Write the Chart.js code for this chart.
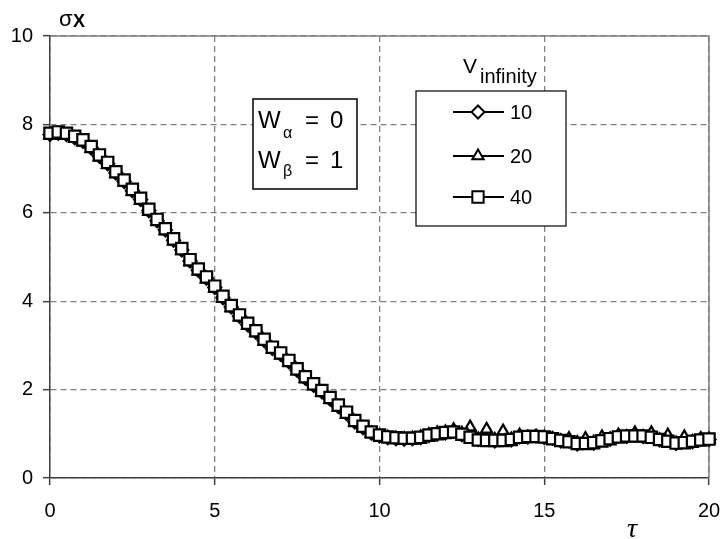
<!DOCTYPE html>
<html>
<head>
<meta charset="utf-8">
<script src="https://cdn.jsdelivr.net/npm/chart.js@4.4.0/dist/chart.umd.min.js"></script>
<style>
html, body { margin: 0; padding: 0; background: #fff; overflow: hidden; }
</style>
</head>
<body>
<canvas id="myChart" width="725" height="539"></canvas>
<script>
// time axis (tau), one reading every 0.25
const tau = [0,0.25,0.5,0.75,1,1.25,1.5,1.75,2,2.25,
  2.5,2.75,3,3.25,3.5,3.75,4,4.25,4.5,4.75,
  5,5.25,5.5,5.75,6,6.25,6.5,6.75,7,7.25,
  7.5,7.75,8,8.25,8.5,8.75,9,9.25,9.5,9.75,
  10,10.25,10.5,10.75,11,11.25,11.5,11.75,12,12.25,
  12.5,12.75,13,13.25,13.5,13.75,14,14.25,14.5,14.75,
  15,15.25,15.5,15.75,16,16.25,16.5,16.75,17,17.25,
  17.5,17.75,18,18.25,18.5,18.75,19,19.25,19.5,19.75,
  20];

// sigma x for V_infinity = 10
const v10 = [7.77,7.80,7.77,7.70,7.62,7.47,7.28,7.11,6.90,6.71,
  6.50,6.30,6.05,5.82,5.61,5.38,5.16,4.91,4.70,4.52,
  4.31,4.08,3.87,3.66,3.47,3.30,3.11,2.93,2.80,2.63,
  2.44,2.26,2.10,1.95,1.79,1.62,1.46,1.27,1.14,1.02,
  0.95,0.91,0.89,0.88,0.89,0.91,0.96,0.99,1.02,1.06,
  0.98,0.95,0.87,0.88,0.84,0.87,0.86,0.93,0.93,0.95,
  0.92,0.90,0.84,0.84,0.77,0.81,0.79,0.87,0.88,0.95,
  0.94,0.97,0.94,0.95,0.86,0.86,0.78,0.84,0.82,0.88,
  0.87];

// V_infinity = 20
const v20 = [7.76,7.79,7.75,7.68,7.60,7.45,7.26,7.09,6.88,6.69,
  6.48,6.28,6.03,5.80,5.59,5.36,5.14,4.89,4.68,4.50,
  4.29,4.06,3.85,3.64,3.45,3.28,3.09,2.91,2.78,2.61,
  2.42,2.24,2.08,1.93,1.77,1.60,1.44,1.26,1.13,1.01,
  0.95,0.92,0.90,0.89,0.90,0.93,0.98,1.02,1.04,1.09,
  1.01,1.15,0.88,1.10,0.87,1.06,0.88,0.97,0.92,0.93,
  0.92,0.88,0.84,0.89,0.80,0.89,0.81,0.93,0.88,0.97,
  0.93,1.02,0.93,1.02,0.86,0.97,0.79,0.93,0.82,0.89,
  0.88];

// V_infinity = 40
const v40 = [7.80,7.83,7.80,7.73,7.65,7.50,7.31,7.14,6.93,6.74,
  6.53,6.33,6.08,5.85,5.64,5.41,5.19,4.94,4.73,4.55,
  4.34,4.11,3.90,3.69,3.50,3.33,3.14,2.96,2.83,2.66,
  2.47,2.29,2.13,1.98,1.82,1.65,1.49,1.30,1.17,1.04,
  0.97,0.93,0.91,0.90,0.90,0.92,0.97,1.00,1.03,1.04,
  0.99,0.92,0.86,0.85,0.85,0.85,0.87,0.92,0.94,0.94,
  0.93,0.89,0.85,0.82,0.78,0.78,0.80,0.84,0.89,0.93,
  0.95,0.95,0.95,0.92,0.87,0.83,0.79,0.80,0.83,0.86,
  0.88];

const seriesLabels = ['10', '20', '40'];
const seriesValues = [v10, v20, v40];
const markerStyles = ['rectRot', 'triangle', 'rect'];
const markerRadius = [6.5, 6.5, 8];

const FONT = '"Liberation Sans", Arial, sans-serif';

const toPoints = vals => tau.map((t, i) => ({x: t, y: vals[i]}));

const datasets = seriesLabels.map((lab, k) => ({
  label: lab,
  data: toPoints(seriesValues[k]),
  borderColor: '#000',
  borderWidth: 1.8,
  pointStyle: markerStyles[k],
  pointRadius: markerRadius[k],
  pointBorderWidth: 2.2,
  pointBackgroundColor: '#fff',
  pointBorderColor: '#000',
  order: 3 - k,   // 40 on top
  clip: false
}));

function marker(ctx, style, x, y, r) {
  ctx.beginPath();
  if (style === 'rect') {
    const s = r * Math.SQRT1_2;
    ctx.rect(x - s, y - s, 2 * s, 2 * s);
  } else if (style === 'triangle') {
    ctx.moveTo(x, y - r);
    ctx.lineTo(x + r * 0.866, y + r * 0.5);
    ctx.lineTo(x - r * 0.866, y + r * 0.5);
    ctx.closePath();
  } else {
    ctx.moveTo(x, y - r); ctx.lineTo(x + r, y);
    ctx.lineTo(x, y + r); ctx.lineTo(x - r, y);
    ctx.closePath();
  }
  ctx.fillStyle = '#fff';
  ctx.fill();
  ctx.stroke();
}

const decor = {
  id: 'decor',
  beforeDatasetsDraw(chart) {
    const {ctx, chartArea: a} = chart;
    ctx.save();
    ctx.strokeStyle = '#808080';
    ctx.lineWidth = 1.5;
    ctx.beginPath();
    ctx.moveTo(a.left, a.top);
    ctx.lineTo(a.right, a.top);
    ctx.lineTo(a.right, a.bottom);
    ctx.stroke();
    ctx.restore();
  },
  afterDraw(chart) {
    const ctx = chart.ctx;
    ctx.save();
    ctx.fillStyle = '#000';
    ctx.strokeStyle = '#000';
    ctx.textBaseline = 'alphabetic';

    // y title
    ctx.font = '22px ' + FONT;
    ctx.fillText('σ', 59, 26);
    ctx.font = 'bold 18px ' + FONT;
    ctx.fillText('X', 73, 27);

    // x title
    ctx.font = 'italic 28px "Liberation Serif", "Times New Roman", serif';
    ctx.fillText('τ', 627, 537);

    // W box
    ctx.lineWidth = 1.5;
    ctx.fillStyle = '#fff';
    ctx.fillRect(253, 99, 104, 90);
    ctx.strokeRect(253, 99, 104, 90);
    ctx.fillStyle = '#000';
    ctx.font = '24px ' + FONT;
    ctx.fillText('W', 258, 128);
    ctx.fillText('=', 305, 128);
    ctx.fillText('0', 330, 128);
    ctx.fillText('W', 258, 168);
    ctx.fillText('=', 305, 168);
    ctx.fillText('1', 330, 168);
    ctx.font = '16px ' + FONT;
    ctx.fillText('α', 283, 138);
    ctx.fillText('β', 283, 176);

    // legend
    ctx.font = '21px ' + FONT;
    ctx.fillText('V', 463, 73);
    ctx.font = '20px ' + FONT;
    ctx.fillText('infinity', 480, 83);

    ctx.lineWidth = 1.2;
    ctx.fillStyle = '#fff';
    ctx.fillRect(416, 91, 150, 135);
    ctx.strokeRect(416, 91, 150, 135);
    const rows = [112, 156, 197];
    seriesLabels.forEach((lab, k) => {
      const y = rows[k];
      ctx.lineWidth = 1.8;
      ctx.beginPath();
      ctx.moveTo(453, y); ctx.lineTo(504, y);
      ctx.stroke();
      ctx.lineWidth = 2;
      marker(ctx, markerStyles[k], 478, y, markerRadius[k]);
      ctx.fillStyle = '#000';
      ctx.font = '20px ' + FONT;
      ctx.textBaseline = 'middle';
      ctx.fillText(lab, 510, y + 1);
      ctx.textBaseline = 'alphabetic';
    });
    ctx.restore();
  }
};

const axisGrid = {
  color: '#808080',
  lineWidth: 1.3,
  tickLength: 7,
  tickColor: '#404040',
  tickWidth: 1.5
};

const ctx = document.getElementById('myChart').getContext('2d');
const chart = new Chart(ctx, {
  type: 'line',
  data: { datasets: datasets },
  options: {
    responsive: false,
    animation: false,
    devicePixelRatio: 1,
    layout: { autoPadding: false, padding: { top: 36, right: 16, left: 0, bottom: 0 } },
    plugins: { legend: { display: false }, tooltip: { enabled: false } },
    scales: {
      x: {
        type: 'linear', min: 0, max: 20,
        ticks: { stepSize: 5, color: '#000', font: { family: FONT, size: 20 }, padding: 14, maxRotation: 0 },
        grid: axisGrid,
        border: { color: '#404040', width: 1.5, dash: [6, 4] },
        afterFit: s => { s.height = 61; s.paddingLeft = 0; s.paddingRight = 0; }
      },
      y: {
        min: 0, max: 10,
        ticks: { stepSize: 2, color: '#000', font: { family: FONT, size: 20 }, padding: 10 },
        grid: axisGrid,
        border: { color: '#404040', width: 1.5, dash: [6, 4] },
        afterFit: s => { s.width = 50; s.paddingTop = 0; s.paddingBottom = 0; }
      }
    }
  },
  plugins: [decor]
});
</script>
</body>
</html>
